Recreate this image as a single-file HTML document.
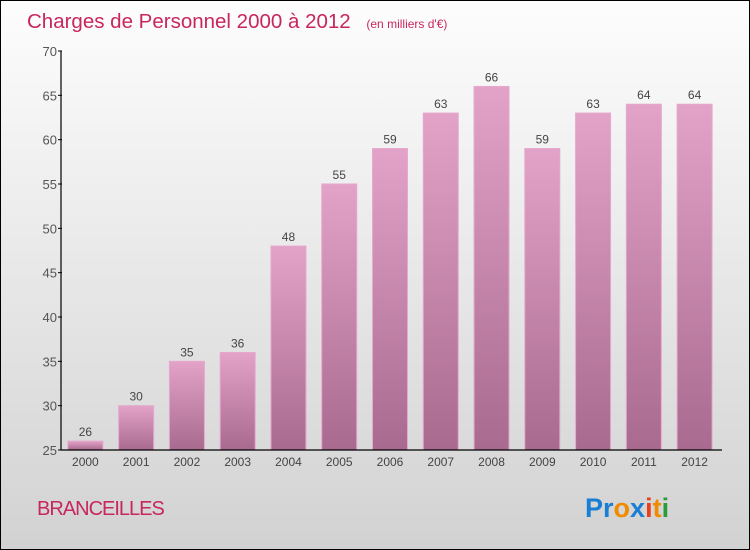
<!DOCTYPE html>
<html><head><meta charset="utf-8"><style>
body{margin:0}
#c{position:relative;width:748px;height:548px;border:1px solid #000;background:linear-gradient(#fdfdfd,#d2d2d2);font-family:"Liberation Sans",sans-serif;overflow:hidden}
</style></head><body>
<div id="c">
<svg id="s" width="748" height="548">
<defs><linearGradient id="g" x1="0" y1="0" x2="0" y2="1"><stop offset="0" stop-color="#e3a3c9"/><stop offset="1" stop-color="#a96a90"/></linearGradient></defs>
<text x="26" y="27" font-size="20.5" fill="#c8265f">Charges de Personnel 2000 à 2012 <tspan font-size="12" dx="10">(en milliers d'€)</tspan></text>
<text x="36" y="514" font-size="20" fill="#c8265f" letter-spacing="-1">BRANCEILLES</text>
<text x="584" y="516" font-size="27" font-weight="bold"><tspan fill="#1a7fd4">Pr</tspan><tspan fill="#f08a00">o</tspan><tspan fill="#1a7fd4">x</tspan><tspan fill="#e8401c">i</tspan><tspan fill="#f08a00">t</tspan><tspan fill="#2a9a3a">i</tspan></text>
<g id="plot"></g>
</svg>
</div>
<script>
const categories=["2000","2001","2002","2003","2004","2005","2006","2007","2008","2009","2010","2011","2012"];
const values=[26,30,35,36,48,55,59,63,66,59,63,64,64];
const yTicks=[25,30,35,40,45,50,55,60,65,70];
const NS="http://www.w3.org/2000/svg";
const p=document.getElementById('plot');
const x0=60,x1=720,yb=449,yt=50,ymin=25,ymax=70;
const band=(x1-x0)/categories.length;
const y=v=>yb-(v-ymin)/(ymax-ymin)*(yb-yt);
const xc=i=>x0+band*(i+0.5)-1;
function mk(t,a){const e=document.createElementNS(NS,t);for(const k in a)e.setAttribute(k,a[k]);p.appendChild(e);return e;}
values.forEach((v,i)=>{
 const r=mk('rect',{x:xc(i)-17.5,y:y(v),width:35,height:yb-y(v),fill:'url(#g)',stroke:'#e6a8cc','stroke-width':1});
 
 
 const t=mk('text',{x:xc(i),y:y(v)-5,'text-anchor':'middle','font-size':12,fill:'#444'});t.textContent=v;
 
 
 const c=mk('text',{x:xc(i),y:yb+16,'text-anchor':'middle','font-size':12,fill:'#444'});c.textContent=categories[i];
 
 
});
yTicks.forEach(v=>{
 mk('line',{x1:x0-3,x2:x0+1,y1:y(v),y2:y(v),stroke:'#000'});
 const t=mk('text',{x:x0-4,y:y(v)+5,'text-anchor':'end','font-size':13,fill:'#555'});t.textContent=v;
 
 
});
const ya=mk('line',{x1:x0,x2:x0,y1:yt,y2:yb,stroke:'#000','stroke-width':1.2});


const xa=mk('line',{x1:x0,x2:x1+1,y1:yb,y2:yb,stroke:'#000','stroke-width':1.2});


</script>
</body></html>
